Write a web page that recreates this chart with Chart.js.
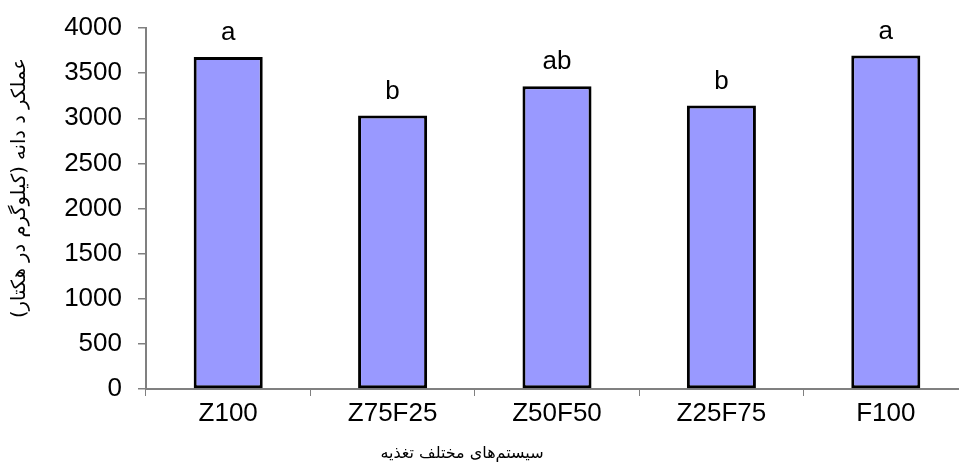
<!DOCTYPE html>
<html>
<head>
<meta charset="utf-8">
<script src="https://cdn.jsdelivr.net/npm/chart.js@4"></script>
<style>
  html, body { margin: 0; padding: 0; overflow: hidden; background: #fff; }
  #wrap { width: 968px; height: 467px; }
</style>
</head>
<body>
<div id="wrap"><canvas id="yieldChart"></canvas></div>
<script>
// feeding systems (x categories)
const systems = ["Z100", "Z75F25", "Z50F50", "Z25F75", "F100"];
// grain yield, kg/ha
const grainYield = [3680, 3030, 3355, 3140, 3695];
// mean-comparison letters above bars
const letters = ["a", "b", "ab", "b", "a"];

const yTitle = "عملکر د دانه (کیلوگرم در هکتار)";
const xTitle = "سیستم‌های مختلف تغذیه";

const persianFont = "'DejaVu Sans', 'Noto Sans', sans-serif";
const latinFont = "'Liberation Sans', Arial, sans-serif";

// letters over the bars + both axis titles
const extraText = {
  id: "extraText",
  afterDatasetsDraw(chart) {
    const ctx = chart.ctx;
    const meta = chart.getDatasetMeta(0);
    ctx.save();
    ctx.fillStyle = "#000";
    ctx.font = "26px " + latinFont;
    ctx.textAlign = "center";
    ctx.textBaseline = "alphabetic";
    meta.data.forEach((bar, i) => {
      ctx.fillText(letters[i], bar.x, bar.y - 17);
    });

    ctx.direction = "rtl";
    ctx.textBaseline = "middle";
    ctx.font = "16px " + persianFont;
    ctx.fillText(xTitle, 462, 454);

    ctx.font = "19.5px " + persianFont;
    ctx.translate(20, 188);
    ctx.rotate(-Math.PI / 2);
    ctx.fillText(yTitle, 0, 0);
    ctx.restore();
  }
};

new Chart("yieldChart", {
  type: "bar",
  data: {
    labels: systems,
    datasets: [{
      data: grainYield,
      backgroundColor: "#9999FF",
      borderColor: "#000000",
      borderWidth: 3,
      borderSkipped: false,
      barPercentage: 0.42,
      categoryPercentage: 1.0
    }]
  },
  options: {
    responsive: true,
    maintainAspectRatio: false,
    animation: false,
    layout: { padding: { top: 28, left: 0, right: 0, bottom: 0 } },
    plugins: {
      legend: { display: false },
      tooltip: { enabled: false }
    },
    scales: {
      x: {
        offset: true,
        grid: {
          offset: true,
          drawOnChartArea: false,
          drawTicks: true,
          tickLength: 7,
          color: "#808080",
          lineWidth: 1
        },
        border: { color: "#808080", width: 2 },
        ticks: {
          color: "#000",
          font: { family: latinFont, size: 26 },
          padding: 2,
          maxRotation: 0
        },
        afterFit(scale) { scale.height = 78; }
      },
      y: {
        min: 0,
        max: 4000,
        grid: {
          drawOnChartArea: false,
          drawTicks: true,
          tickLength: 8,
          color: "#808080",
          lineWidth: 1.5
        },
        border: { color: "#808080", width: 2 },
        ticks: {
          stepSize: 500,
          color: "#000",
          font: { family: latinFont, size: 26, lineHeight: 0.9 },
          padding: 16,
          callback: (v) => String(v)
        },
        afterFit(scale) { scale.width = 146; }
      }
    }
  },
  plugins: [extraText]
});
</script>
</body>
</html>
